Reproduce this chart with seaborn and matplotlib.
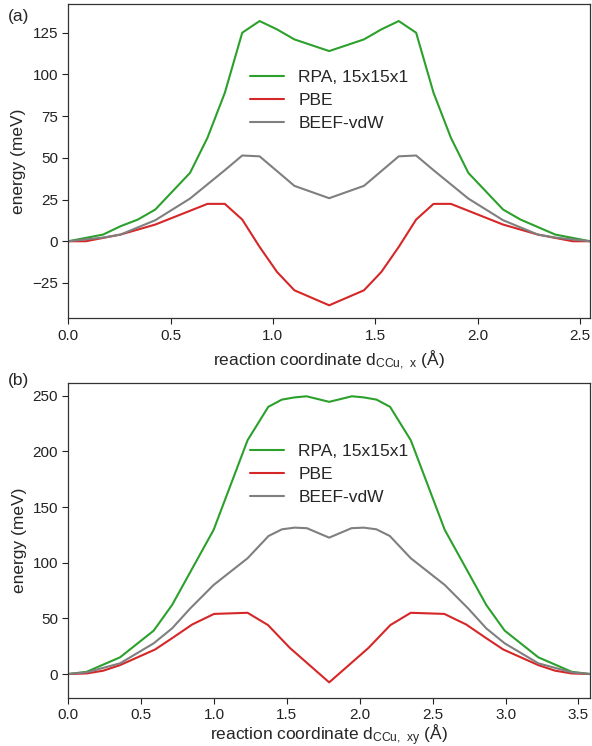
import numpy as np
import pandas as pd
import matplotlib
matplotlib.use("Agg")
import matplotlib.pyplot as plt
import seaborn as sns

# ---------------- data: panel (a) ----------------
x_a_rpa = [0, 0.17, 0.255, 0.34, 0.425, 0.595, 0.68, 0.765, 0.85, 0.935, 1.02, 1.105, 1.275,
           1.445, 1.53, 1.615, 1.70, 1.785, 1.87, 1.955, 2.125, 2.21, 2.295, 2.38, 2.55]
e_a_rpa = [0, 4, 9, 13, 19, 41, 62, 89, 125, 132, 127, 121, 114,
           121, 127, 132, 125, 89, 62, 41, 19, 13, 8.5, 4, 0]

x_a_pbe = [0, 0.085, 0.255, 0.425, 0.68, 0.765, 0.85, 0.935, 1.02, 1.105, 1.275,
           1.445, 1.53, 1.615, 1.70, 1.785, 1.87, 2.125, 2.295, 2.465, 2.55]
e_a_pbe = [0, 0, 4, 10, 22.4, 22.4, 13, -3.4, -18.4, -29.4, -38.4,
           -29.4, -18.4, -3.4, 13, 22.4, 22.4, 10, 4, 0, 0]

x_a_beef = [0, 0.17, 0.255, 0.425, 0.595, 0.765, 0.85, 0.935, 1.105, 1.275,
            1.445, 1.615, 1.70, 1.785, 1.955, 2.125, 2.295, 2.38, 2.55]
e_a_beef = [0, 2.2, 4, 12.6, 25.6, 42.6, 51.4, 50.9, 33.2, 25.8,
            33.2, 50.9, 51.4, 42.6, 25.6, 12.6, 4, 2.2, 0]

# ---------------- data: panel (b) ----------------
x_b_rpa = [0, 0.126, 0.355, 0.586, 0.712, 0.997, 1.23, 1.372, 1.465, 1.553, 1.634, 1.79,
           1.946, 2.027, 2.115, 2.208, 2.35, 2.583, 2.868, 2.994, 3.225, 3.454, 3.58]
e_b_rpa = [0, 2, 15, 39, 62, 129.5, 210, 240, 246.5, 248.5, 249.5, 244.5,
           249.5, 248.5, 246.5, 240, 210, 129.5, 62, 39, 15, 2, 0]

x_b_pbe = [0, 0.126, 0.24, 0.355, 0.595, 0.71, 0.85, 1.0, 1.23, 1.37, 1.52, 1.62, 1.79,
           1.96, 2.06, 2.21, 2.35, 2.58, 2.73, 2.87, 2.985, 3.225, 3.34, 3.454, 3.58]
e_b_pbe = [0, 0.5, 3, 8, 22, 32, 44.5, 54, 55, 44, 23.5, 12, -7.5,
           12, 23.5, 44, 55, 54, 44.5, 32, 22, 8, 3, 0.5, 0]

x_b_beef = [0, 0.126, 0.355, 0.586, 0.712, 0.837, 0.997, 1.23, 1.374, 1.466, 1.553, 1.637, 1.79,
            1.943, 2.027, 2.114, 2.206, 2.35, 2.583, 2.743, 2.868, 2.994, 3.225, 3.454, 3.58]
e_b_beef = [0, 1.5, 9.6, 27.6, 41, 59, 80, 104, 124, 130, 131.5, 131, 122.5,
            131, 131.5, 130, 124, 104, 80, 59, 41, 27.6, 9.6, 1.5, 0]

labels = ["RPA, 15x15x1", "PBE", "BEEF-vdW"]
colors = ["#2ca02c", "#d62728", "#7f7f7f"]

xticks_a = [0.0, 0.5, 1.0, 1.5, 2.0, 2.5]
yticks_a = [-25, 0, 25, 50, 75, 100, 125]
xticks_b = [0.0, 0.5, 1.0, 1.5, 2.0, 2.5, 3.0, 3.5]
yticks_b = [0, 50, 100, 150, 200, 250]


def long_df(series):
    frames = []
    for lab, xs, ys in series:
        frames.append(pd.DataFrame({"x": xs, "energy": ys, "method": lab}))
    return pd.concat(frames, ignore_index=True)


df_a = long_df([(labels[0], x_a_rpa, e_a_rpa), (labels[1], x_a_pbe, e_a_pbe),
                (labels[2], x_a_beef, e_a_beef)])
df_b = long_df([(labels[0], x_b_rpa, e_b_rpa), (labels[1], x_b_pbe, e_b_pbe),
                (labels[2], x_b_beef, e_b_beef)])

sns.set_style("ticks")
plt.rcParams["font.family"] = ["Liberation Sans", "DejaVu Sans"]
plt.rcParams["mathtext.default"] = "regular"
plt.rcParams["axes.unicode_minus"] = True

fig = plt.figure(figsize=(5.92, 7.46), dpi=100)
ax1 = fig.add_axes([0.1154, 0.5733, 0.8813, 0.4213])
ax2 = fig.add_axes([0.1154, 0.0647, 0.8813, 0.4223])

palette = dict(zip(labels, colors))

for ax, df, xt, yt, xlim, ylim, xlab, leg_y, lpad in [
    (ax1, df_a, xticks_a, yticks_a, (0, 2.55), (-46.2, 142.2),
     r"reaction coordinate d$_{CCu,\ x}$ (Å)", 0.694, 4.0),
    (ax2, df_b, xticks_b, yticks_b, (0, 3.58), (-21.3, 261.7),
     r"reaction coordinate d$_{CCu,\ xy}$ (Å)", 0.71, 0.0),
]:
    sns.lineplot(data=df, x="x", y="energy", hue="method", hue_order=labels,
                 palette=palette, sort=False, estimator=None, linewidth=1.5, ax=ax)
    ax.set_xlim(*xlim)
    ax.set_ylim(*ylim)
    ax.set_xticks(xt)
    ax.set_xticklabels([f"{v:.1f}" for v in xt])
    ax.set_yticks(yt)
    ax.set_yticklabels([f"{v:d}".replace("-", "\u2212") for v in yt])
    ax.tick_params(direction="out", length=4, width=0.8, labelsize=11, colors="#222222")
    for sp in ax.spines.values():
        sp.set_color("#333333")
        sp.set_linewidth(0.9)
    ax.set_xlabel(xlab, fontsize=12.5, labelpad=lpad)
    ax.set_ylabel("energy (meV)", fontsize=12.5)
    ax.legend(loc="center", bbox_to_anchor=(0.5, leg_y), frameon=False, fontsize=12.5,
              handlelength=2.0, handletextpad=0.8, labelspacing=0.45)

fig.text(8 / 592, 1 - 17 / 746, "(a)", fontsize=12.5, ha="left", va="center")
fig.text(8 / 592, 1 - 381 / 746, "(b)", fontsize=12.5, ha="left", va="center")

fig.savefig("out.png", dpi=100)
